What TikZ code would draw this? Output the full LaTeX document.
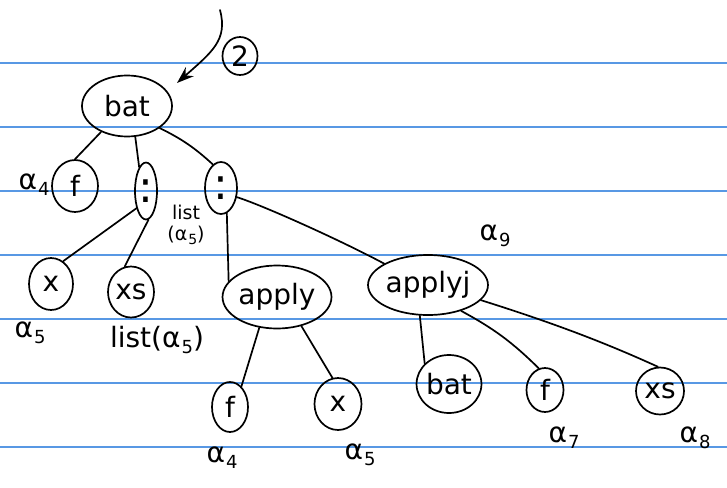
\documentclass[tikz,border=0pt]{standalone}
\usepackage{fontspec}
\setmainfont{DejaVu Sans}
\usetikzlibrary{shapes.geometric,arrows.meta}
\definecolor{ruleblue}{RGB}{88,152,228}
% alpha with a large lowered index, as written by hand
\newcommand\tyvar[1]{α\kern1pt\raisebox{-6pt}{\fontsize{18}{18}\selectfont #1}}
\newcommand\tyvarsm[1]{α\kern1pt\raisebox{-4pt}{\fontsize{14}{14}\selectfont #1}}

\begin{document}
\begin{tikzpicture}[x=1pt,y=-1pt,line width=1.7pt,line cap=round,line join=round,
  oval/.style={ellipse,draw,inner sep=0pt,font=\fontsize{28}{28}\selectfont},
  colon/.style={ellipse,draw,inner sep=0pt,font=\fontsize{44}{44}\selectfont},
  lbl/.style={inner sep=0pt,font=\fontsize{28}{28}\selectfont},
  small/.style={inner sep=0pt,align=center,font=\fontsize{19}{21}\selectfont},
  ruled/.style={draw=ruleblue,line width=1.3pt}]

% page and ruled lines
\fill[white] (0,0) rectangle (727,487);
\useasboundingbox (0,0) rectangle (727,487);
\foreach \yy in {63,127,191,255,319,383,447}
  \draw[ruled] (0,\yy) -- (727,\yy);

% nodes
\node[oval,minimum width=90pt,minimum height=61pt] (bat) at (127,106) {bat};
\node[oval,minimum width=46pt,minimum height=52pt] (f1) at (75,186) {f};
\node[colon,minimum width=22pt,minimum height=57pt] (c1) at (146,191) {:};
\node[colon,minimum width=32pt,minimum height=52pt] (c2) at (221,188) {:};
\node[oval,minimum width=44pt,minimum height=52pt] (x1) at (51,284) {x};
\node[oval,minimum width=46pt,minimum height=51pt] (xs1) at (131,292) {xs};
\node[oval,minimum width=95pt,minimum height=63pt] (apply) at (277,297) {apply};
\node[oval,minimum width=102pt,minimum height=60pt] (applyj) at (428,285) {applyj};
\node[oval,minimum width=36pt,minimum height=50pt] (f2) at (230,407) {f};
\node[oval,minimum width=47pt,minimum height=52pt] (x2) at (338,404) {x};
\node[oval,minimum width=64pt,minimum height=58pt] (bat2) at (449,384) {bat};
\node[oval,minimum width=37pt,minimum height=44pt] (f3) at (545,390) {f};
\node[oval,minimum width=48pt,minimum height=47pt] (xs2) at (660,391) {xs};
\node[oval,minimum width=35pt,minimum height=38pt] (two) at (240,56) {2};

% type labels
\node[lbl] (a4) at (34,185) {\tyvar{4}};
\node[small] (l5) at (186,225) {list\\(\tyvarsm{5})};
\node[lbl] (a5) at (30,333) {\tyvar{5}};
\node[lbl] (l5b) at (157,340) {list(\tyvar{5})};
\node[lbl] (a9) at (495,236) {\tyvar{9}};
\node[lbl] (a4b) at (222,458) {\tyvar{4}};
\node[lbl] (a5b) at (360,455) {\tyvar{5}};
\node[lbl] (a7) at (564,438) {\tyvar{7}};
\node[lbl] (a8) at (695,438) {\tyvar{8}};

% incoming arrow
\coordinate (from) at (220,10);
\coordinate (tip) at (177,83);
\draw[-{Stealth[length=17pt,width=12pt]}] (from) .. controls (228,40) and (212,52) .. (tip);

% tree edges
\draw (bat.225) -- (f1.north);
\draw (bat.285) -- (c1.106);
\draw (bat.326) to[bend left=8] (c2.109);
\draw (c1.241) -- (x1.62);
\draw (c1.275) -- (xs1.104);
\draw (c2.283) -- (apply.162);
\draw (c2.330) .. controls (262,205) and (340,240) .. (applyj.154);
\draw (apply.240) -- (f2.61);
\draw (apply.310) -- (x2.102);
\draw (applyj.255) -- (bat2.140);
\draw (applyj.322) to[bend left=8] (f3.106);
\draw (applyj.344) .. controls (560,325) and (610,345) .. (xs2.95);
\end{tikzpicture}
\end{document}
